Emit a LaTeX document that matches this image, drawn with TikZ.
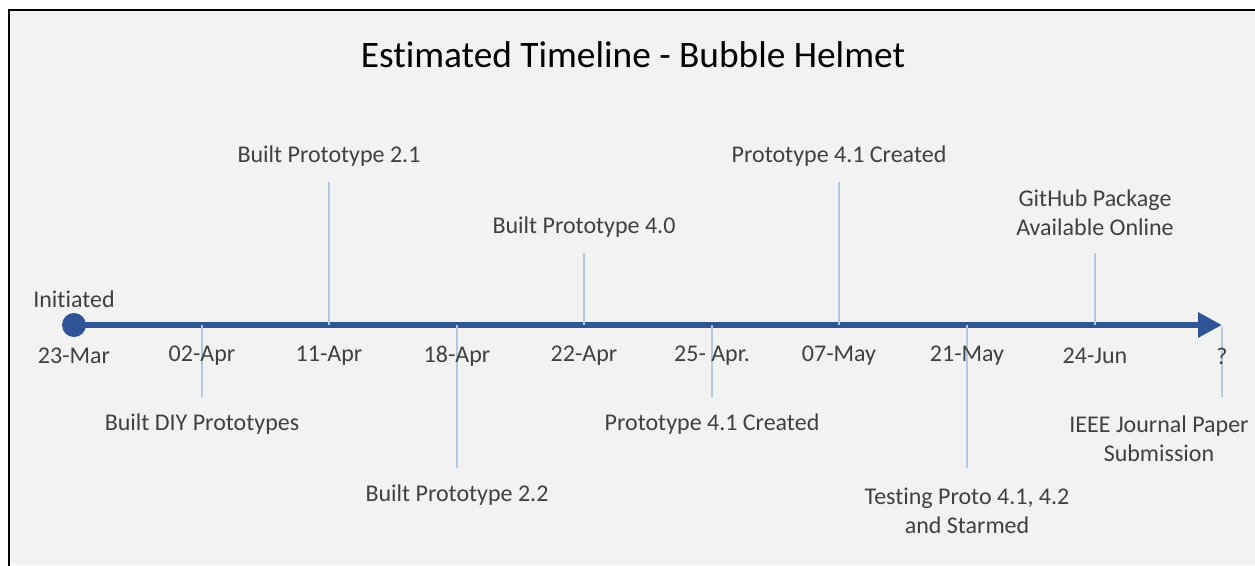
\documentclass[tikz,border=0pt]{standalone}
\usepackage{fontspec}
\setmainfont{Carlito}[Ligatures=NoCommon]
\usepackage{xcolor}
\usepackage{tikz}
\usetikzlibrary{arrows.meta}

\definecolor{axisblue}{HTML}{2F5597}
\definecolor{tickblue}{HTML}{B4C7E7}
\definecolor{labelgray}{HTML}{404040}
\definecolor{chartbg}{HTML}{F2F2F2}

\tikzset{
  event/.style={text=labelgray, font=\fontsize{18}{21.9}\selectfont, align=center, inner sep=0pt},
  datelbl/.style={text=labelgray, font=\fontsize{18}{21.9}\selectfont, inner sep=0pt},
  tick/.style={draw=tickblue, line width=1.6pt},
}

\begin{document}
\begin{tikzpicture}[x=0.75pt, y=-0.75pt]
	  \useasboundingbox (0, 0) rectangle (1255, 565);
	  \fill[white](0, 0) rectangle (1255, 565);
	  \fill[chartbg](9, 10) rectangle (1255, 565);
	  \draw[line width=1.5pt](9, 567) -- (9, 10) -- (1257, 10);
	  \node[font=\fontsize{28}{34}\selectfont] (title) at (633, 55) {Estimated Timeline - Bubble Helmet};

	  % axis
	  \coordinate (tip) at (1222, 325);
	  \node[circle, fill=axisblue, minimum size=18pt, inner sep=0pt] (start) at (74, 325) {};
	  \draw[axisblue, line width=4.5pt, -{Triangle[length=18pt, width=18pt]}] (start.center) -- (tip);

	  % tick marks
	  \coordinate (a1) at (202, 325); \coordinate (b1) at (202, 397);
	  \coordinate (a2) at (329, 325); \coordinate (b2) at (329, 182);
	  \coordinate (a3) at (457, 325); \coordinate (b3) at (457, 468);
	  \coordinate (a4) at (584, 325); \coordinate (b4) at (584, 253);
	  \coordinate (a5) at (712, 325); \coordinate (b5) at (712, 397);
	  \coordinate (a6) at (839, 325); \coordinate (b6) at (839, 182);
	  \coordinate (a7) at (967, 325); \coordinate (b7) at (967, 468);
	  \coordinate (a8) at (1095, 325); \coordinate (b8) at (1095, 253);
	  \coordinate (a9) at (1222, 327); \coordinate (b9) at (1222, 397);
	  \draw[tick] (a1) -- (b1);
	  \draw[tick] (a2) -- (b2);
	  \draw[tick] (a3) -- (b3);
	  \draw[tick] (a4) -- (b4);
	  \draw[tick] (a5) -- (b5);
	  \draw[tick] (a6) -- (b6);
	  \draw[tick] (a7) -- (b7);
	  \draw[tick] (a8) -- (b8);
	  \draw[tick] (a9) -- (b9);

	  % dates
	  \node[datelbl] (d0) at (74, 356) {23-Mar};
	  \node[datelbl] (d1) at (202, 356) {02-Apr};
	  \node[datelbl] (d2) at (329, 356) {11-Apr};
	  \node[datelbl] (d3) at (457, 356) {18-Apr};
	  \node[datelbl] (d4) at (584, 356) {22-Apr};
	  \node[datelbl] (d5) at (712, 356) {25- Apr.};
	  \node[datelbl] (d6) at (839, 356) {07-May};
	  \node[datelbl] (d7) at (967, 356) {21-May};
	  \node[datelbl] (d8) at (1095, 356) {24-Jun};
	  \node[datelbl] (d9) at (1222, 356) {?};

	  % events
	  \node[event] (e0) at (74, 299) {Initiated};
	  \node[event] (e1) at (202, 424) {Built DIY Prototypes};
	  \node[event] (e2) at (329, 156) {Built Prototype 2.1};
	  \node[event] (e3) at (457, 495) {Built Prototype 2.2};
	  \node[event] (e4) at (584, 227) {Built Prototype 4.0};
	  \node[event] (e5) at (712, 424) {Prototype 4.1 Created};
	  \node[event] (e6) at (839, 156) {Prototype 4.1 Created};
	  \node[event] (e7) at (967, 511) {Testing Proto 4.1, 4.2\\and Starmed};
	  \node[event] (e8) at (1095, 213) {GitHub Package\\Available Online};
	  \node[event] (e9) at (1159, 439) {IEEE Journal Paper\\Submission};
	\end{tikzpicture}
\end{document}
